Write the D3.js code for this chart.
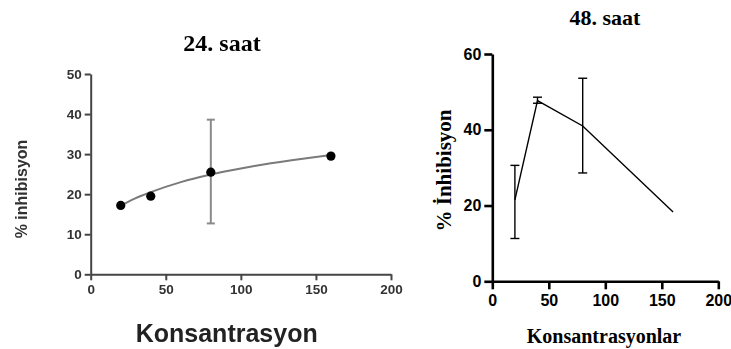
<!DOCTYPE html>
<html>
<head>
<meta charset="utf-8">
<script src="https://cdn.jsdelivr.net/npm/d3@7"></script>
<style>
  html, body { margin: 0; padding: 0; background: #fff; }
  svg { display: block; }
</style>
</head>
<body>
<svg id="chart" width="731" height="349"></svg>
<script>
// 24. saat: measured means, one SD bar, fitted trend
const conc24 = [20, 40, 80, 160];
const inhib24 = [17.2, 19.5, 25.5, 29.5];
const err24X = [80];
const err24Low = [12.7];
const err24High = [38.6];
const fit24X = [20, 30, 40, 60, 80, 100, 120, 140, 160];
const fit24Y = [17.1, 19.0, 20.5, 23.0, 24.9, 26.4, 27.7, 28.8, 29.8];
const ticks24X = [0, 50, 100, 150, 200];
const ticks24Y = [0, 10, 20, 30, 40, 50];

// 48. saat: means with SD bars
const conc48 = [20, 40, 80, 160];
const inhib48 = [21.5, 47.7, 41.0, 18.3];
const err48Low = [11.3, 47.0, 28.6, null];
const err48High = [30.6, 48.6, 53.6, null];
const ticks48X = [0, 50, 100, 150, 200];
const ticks48Y = [0, 20, 40, 60];

const svg = d3.select("#chart");
const defs = svg.append("defs");
defs.append("filter").attr("id", "soft")
  .append("feGaussianBlur").attr("stdDeviation", 0.55);

/* ---------- left panel ---------- */
const L = svg.append("g").attr("filter", "url(#soft)");
const x1 = d3.scaleLinear().domain([0, 200]).range([90.7, 391]);
const y1 = d3.scaleLinear().domain([0, 50]).range([274.3, 74]);
const axisGrey = "#444";

const ax1 = L.append("g").attr("transform", `translate(0,${y1(0)})`)
  .call(d3.axisBottom(x1).tickValues(ticks24X).tickSize(6).tickSizeOuter(0).tickPadding(4));
const ay1 = L.append("g").attr("transform", `translate(${x1(0)},0)`)
  .call(d3.axisLeft(y1).tickValues(ticks24Y).tickSize(6).tickSizeOuter(0).tickPadding(3));
[ax1, ay1].forEach(a => {
  a.selectAll("path, line").attr("stroke", axisGrey).attr("stroke-width", 2);
  a.selectAll("text").attr("fill", "#333").style("font", "bold 13.5px 'Liberation Sans', Arial, sans-serif");
});

// fitted curve
L.append("path")
  .datum(fit24X.map((v, i) => [v, fit24Y[i]]))
  .attr("fill", "none").attr("stroke", "#7a7a7a").attr("stroke-width", 2)
  .attr("d", d3.line().x(d => x1(d[0])).y(d => y1(d[1])).curve(d3.curveMonotoneX));

// error bar
err24X.forEach((cx, i) => {
  const g = L.append("g").attr("stroke", "#8a8a8a").attr("stroke-width", 2);
  g.append("line").attr("x1", x1(cx)).attr("x2", x1(cx)).attr("y1", y1(err24Low[i])).attr("y2", y1(err24High[i]));
  [err24Low[i], err24High[i]].forEach(v =>
    g.append("line").attr("x1", x1(cx) - 4).attr("x2", x1(cx) + 4).attr("y1", y1(v)).attr("y2", y1(v)));
});

// points
L.selectAll("circle.p24").data(conc24).join("circle")
  .attr("class", "p24")
  .attr("cx", d => x1(d)).attr("cy", (d, i) => y1(inhib24[i]))
  .attr("r", 4.6).attr("fill", "#000");

L.append("text").attr("x", 222).attr("y", 50.5).attr("text-anchor", "middle")
  .style("font", "bold 24px 'Liberation Serif', 'Times New Roman', serif").text("24. saat");
L.append("text").attr("transform", "translate(27,189) rotate(-90)").attr("text-anchor", "middle")
  .attr("fill", "#333")
  .style("font", "bold 16px 'Liberation Sans', Arial, sans-serif").text("% inhibisyon");
L.append("text").attr("x", 226.7).attr("y", 341.5).attr("text-anchor", "middle")
  .attr("fill", "#222")
  .style("font", "bold 25px 'Liberation Sans', Arial, sans-serif").text("Konsantrasyon");

/* ---------- right panel ---------- */
const R = svg.append("g");
const x2 = d3.scaleLinear().domain([0, 200]).range([492.3, 718.3]);
const y2 = d3.scaleLinear().domain([0, 60]).range([281.3, 54]);

const ax2 = R.append("g").attr("transform", `translate(0,${y2(0)})`)
  .call(d3.axisBottom(x2).tickValues(ticks48X).tickSize(8).tickSizeOuter(0).tickPadding(5));
const ay2 = R.append("g").attr("transform", `translate(${x2(0)},0)`)
  .call(d3.axisLeft(y2).tickValues(ticks48Y).tickSize(8).tickSizeOuter(0).tickPadding(3));
[ax2, ay2].forEach(a => {
  a.selectAll("path, line").attr("stroke", "#000").attr("stroke-width", 2.6);
  a.selectAll("text").attr("fill", "#000").style("font", "bold 16px 'Liberation Sans', Arial, sans-serif");
});

R.append("path")
  .datum(conc48.map((v, i) => [v, inhib48[i]]))
  .attr("fill", "none").attr("stroke", "#000").attr("stroke-width", 1.4)
  .attr("d", d3.line().x(d => x2(d[0])).y(d => y2(d[1])));

conc48.forEach((cx, i) => {
  if (err48Low[i] == null) return;
  const g = R.append("g").attr("stroke", "#000").attr("stroke-width", 1.4);
  g.append("line").attr("x1", x2(cx)).attr("x2", x2(cx)).attr("y1", y2(err48Low[i])).attr("y2", y2(err48High[i]));
  [err48Low[i], err48High[i]].forEach(v =>
    g.append("line").attr("x1", x2(cx) - 4.5).attr("x2", x2(cx) + 4.5).attr("y1", y2(v)).attr("y2", y2(v)));
});

R.append("text").attr("x", 605).attr("y", 25).attr("text-anchor", "middle")
  .style("font", "bold 22px 'Liberation Serif', 'Times New Roman', serif").text("48. saat");
R.append("text").attr("transform", "translate(451,170.5) rotate(-90)").attr("text-anchor", "middle")
  .style("font", "bold 21px 'Liberation Serif', 'Times New Roman', serif").text("% İnhibisyon");
R.append("text").attr("x", 604).attr("y", 343).attr("text-anchor", "middle")
  .style("font", "bold 20px 'Liberation Serif', 'Times New Roman', serif").text("Konsantrasyonlar");
</script>
</body>
</html>
